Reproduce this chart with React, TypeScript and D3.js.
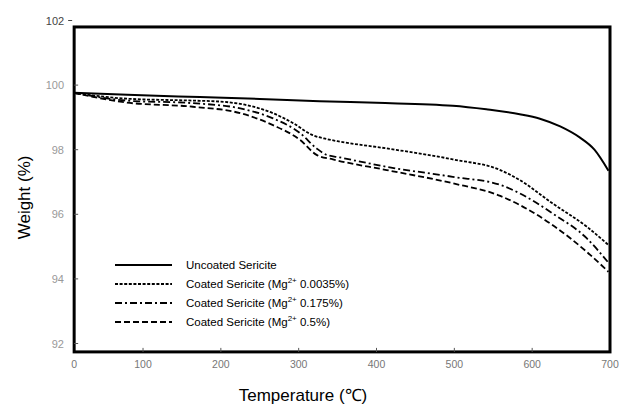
import React, { useEffect } from 'react'
import * as d3 from 'd3'

// temperatures (°C) sampled for each TGA curve
const uncoatedT = [11, 80, 173, 250, 327, 400, 498, 541, 584, 610, 636, 661, 680, 698]
const uncoatedW = [99.76, 99.7, 99.63, 99.57, 99.5, 99.45, 99.36, 99.25, 99.1, 98.96, 98.72, 98.38, 98.0, 97.35]

const lowT = [11, 79, 164, 199, 233, 267, 293, 318, 336, 353, 413, 498, 559, 584, 626, 670, 698]
const lowW = [99.76, 99.58, 99.52, 99.49, 99.38, 99.13, 98.82, 98.45, 98.33, 98.25, 98.04, 97.7, 97.37, 97.06, 96.34, 95.62, 95.05]

const midT = [11, 79, 164, 225, 267, 302, 323, 336, 353, 413, 498, 559, 584, 626, 670, 698]
const midW = [99.76, 99.52, 99.44, 99.28, 98.97, 98.51, 98.04, 97.84, 97.76, 97.47, 97.16, 96.91, 96.65, 96.03, 95.26, 94.5]

const highT = [11, 79, 164, 225, 267, 302, 323, 344, 413, 498, 559, 584, 626, 670, 698]
const highW = [99.76, 99.46, 99.33, 99.13, 98.76, 98.3, 97.84, 97.7, 97.37, 96.96, 96.57, 96.29, 95.67, 94.84, 94.22]

const xTicks = [0, 100, 200, 300, 400, 500, 600, 700]
const yTicks = [92, 94, 96, 98, 100, 102]

const seriesNames = ['Uncoated Sericite', 'Coated Sericite', 'Coated Sericite', 'Coated Sericite']
const seriesMg = ['', '0.0035%', '0.175%', '0.5%']

const W = 619
const H = 407
const font = 'Arial, "Liberation Sans", sans-serif'

export default function App() {
  useEffect(() => {
    document.body.style.margin = '0'
  }, [])

  const x = d3.scaleLinear().domain([0, 700]).range([65.2, 610])
  const y = d3.scaleLinear().domain([92, 102]).range([343.5, 20.5])

  const frameLeft = x(11.5)
  const frameRight = x(700)
  const frameTop = y(101.8)
  const frameBottom = y(91.74)

  const line = d3
    .line<[number, number]>()
    .x((d) => x(d[0]))
    .y((d) => y(d[1]))
    .curve(d3.curveMonotoneX)

  const series = [
    { t: uncoatedT, w: uncoatedW, dash: 'none' },
    { t: lowT, w: lowW, dash: '3,1.6' },
    { t: midT, w: midW, dash: '7,3,2,3' },
    { t: highT, w: highW, dash: '6,3' }
  ]

  const legendY = d3.scaleLinear().domain([0, 3]).range([265, 322])

  return (
    <svg width={W} height={H} style={{ display: 'block', background: '#fff' }} fontFamily={font}>
      {series.map((s, i) => (
        <path
          key={i}
          d={line(s.t.map((t, j) => [t, s.w[j]] as [number, number])) ?? ''}
          fill="none"
          stroke="#000"
          strokeWidth={i === 0 ? 2 : 1.8}
          strokeDasharray={s.dash}
        />
      ))}

      <rect
        x={frameLeft}
        y={frameTop}
        width={frameRight - frameLeft}
        height={frameBottom - frameTop}
        fill="none"
        stroke="#000"
        strokeWidth={3}
      />

      {yTicks.map((v) => (
        <g key={v}>
          {v === 102 ? (
            <line x1={frameLeft - 6} x2={frameLeft - 2} y1={y(v)} y2={y(v)} stroke="#444" strokeWidth={1} />
          ) : (
            <line x1={frameLeft} x2={frameLeft + 4} y1={y(v)} y2={y(v)} stroke="#555" strokeWidth={1} />
          )}
          <text
            x={v === 102 ? frameLeft - 10 : 64}
            y={y(v) + 4}
            textAnchor="end"
            fontSize={11}
            fill={v === 102 ? '#444' : '#999'}
          >
            {v}
          </text>
        </g>
      ))}

      {xTicks.map((v) => (
        <g key={v}>
          {v > 0 && v < 700 && (
            <line x1={x(v)} x2={x(v)} y1={frameBottom} y2={frameBottom - 4} stroke="#555" strokeWidth={1} />
          )}
          <text x={Math.max(x(v), frameLeft)} y={368} textAnchor="middle" fontSize={10.5} fill="#777">
            {v}
          </text>
        </g>
      ))}

      <text
        transform={`translate(30, ${(frameTop + frameBottom) / 2 + 8}) rotate(-90)`}
        textAnchor="middle"
        fontSize={17}
        fill="#000"
      >
        Weight (%)
      </text>
      <text x={303} y={401} textAnchor="middle" fontSize={17} fill="#000">
        Temperature (℃)
      </text>

      {series.map((s, i) => (
        <g key={`lg${i}`}>
          <line
            x1={115}
            x2={172}
            y1={legendY(i)}
            y2={legendY(i)}
            stroke="#000"
            strokeWidth={i === 0 ? 2 : 1.8}
            strokeDasharray={s.dash}
          />
          <text x={186} y={legendY(i) + 4} fontSize={11.5} fill="#000">
            {seriesNames[i]}
            {seriesMg[i] && (
              <>
                {' (Mg'}
                <tspan fontSize={8} dy={-5}>
                  2+
                </tspan>
                <tspan dy={5}>{` ${seriesMg[i]})`}</tspan>
              </>
            )}
          </text>
        </g>
      ))}
    </svg>
  )
}
